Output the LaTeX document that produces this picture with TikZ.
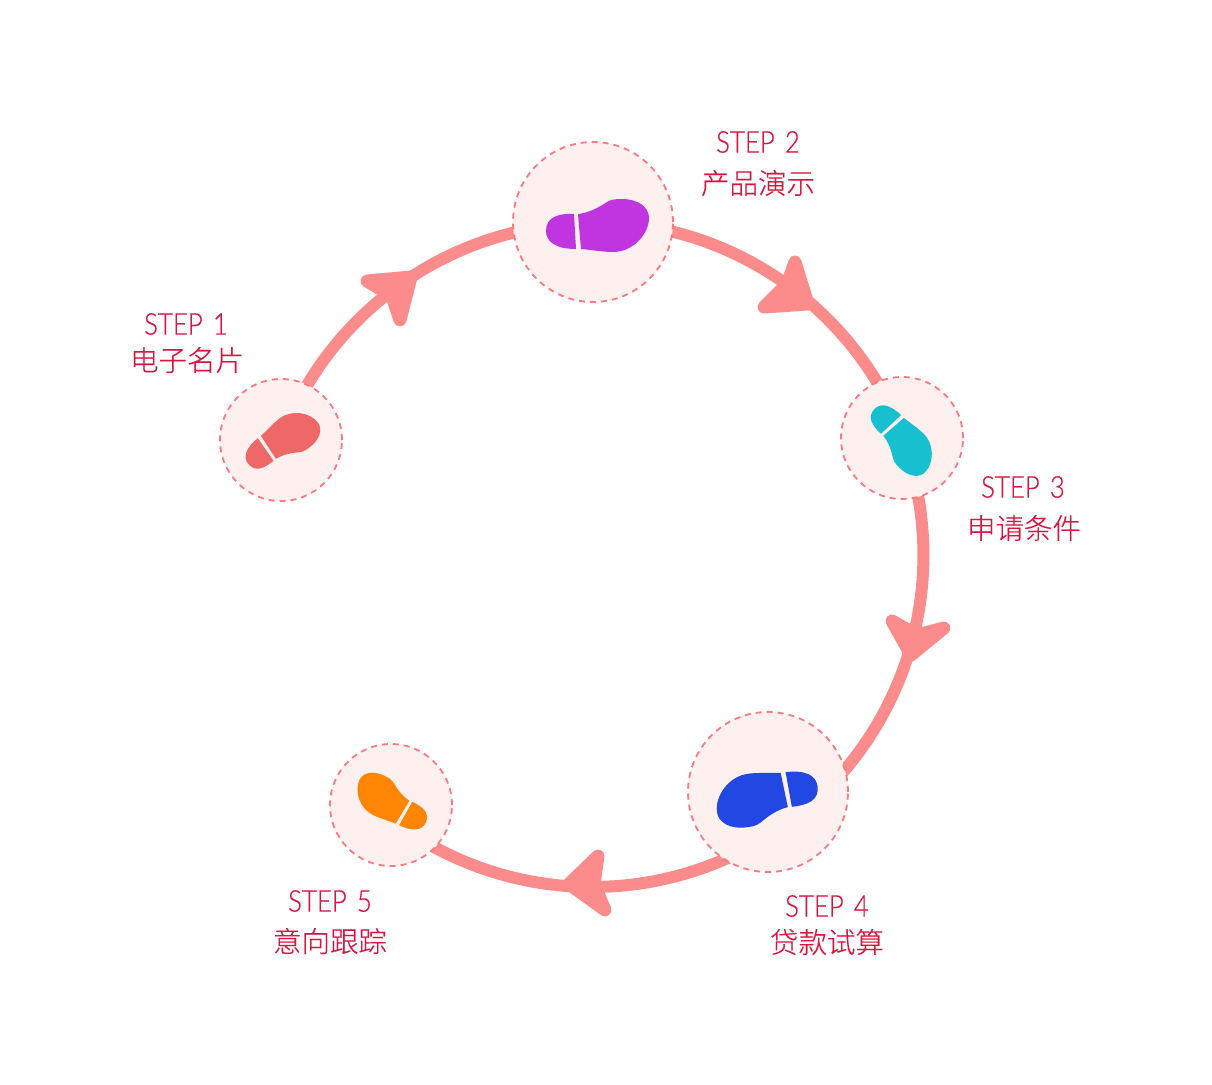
\documentclass[tikz,border=0pt]{standalone}
\usepackage{fontspec}
\usetikzlibrary{backgrounds}
\newfontfamily\latinface[FakeStretch=0.86,WordSpace=1.45,FakeBold=0.5]{Lato Light}
\newfontfamily\cjkface[FakeBold=0.25]{Noto Sans CJK SC Light}
\definecolor{ringc}{HTML}{FC8C8C}
\definecolor{discc}{HTML}{FEF0EF}
\definecolor{dashc}{HTML}{FA7A80}
\definecolor{inkc}{HTML}{D9163F}
\definecolor{foota}{HTML}{EF6868}
\definecolor{footb}{HTML}{C035E0}
\definecolor{footc}{HTML}{16C0CE}
\definecolor{footd}{HTML}{2347E2}
\definecolor{foote}{HTML}{FF8505}
\tikzset{
  disc/.style={circle,inner sep=0pt,fill=discc,draw=dashc,line width=1.8pt,dash pattern=on 6pt off 5pt},
  bigdisc/.style={disc,minimum size=160pt},
  smalldisc/.style={disc,minimum size=122pt},
  ringline/.style={draw=ringc,line width=12pt},
  arrowhead/.style={fill=ringc,draw=ringc,line width=13pt,line join=round},
  steplabel/.style={text=inkc,inner sep=0pt,font=\latinface\fontsize{30}{30}\selectfont},
  cnlabel/.style={text=inkc,inner sep=0pt,font=\cjkface\fontsize{28.5}{28.5}\selectfont},
  foot/.pic={
    \fill (-19,8.2) .. controls (-35,8.5) and (-47,5) .. (-47,-9)
          .. controls (-47,-20) and (-37,-27) .. (-17,-27) -- cycle;
    \fill (-15,8) .. controls (-5,9) and (5,14) .. (14,20)
          .. controls (19,23) and (24,23) .. (29,23)
          .. controls (45,23) and (56,15) .. (56,4)
          .. controls (56,-12) and (40,-30) .. (20,-30)
          .. controls (10,-30) and (0,-28) .. (-12,-27) -- cycle;
  }
}
\begin{document}
\begin{tikzpicture}[x=1pt,y=1pt]
  \useasboundingbox (0,0) rectangle (1212,-1084);

  % Step discs
  \node[smalldisc] (s1) at (281,-440) {};
  \node[bigdisc]   (s2) at (593,-222) {};
  \node[smalldisc] (s3) at (902,-438) {};
  \node[bigdisc]   (s4) at (768,-792) {};
  \node[smalldisc] (s5) at (391,-805) {};

  % Ring segments, running behind the discs
  \begin{pgfonlayer}{background}
    \path (592,-555) ++(-60:332) coordinate (outFour);
    \draw[ringline] (s1.center) arc[start angle=159.7,end angle=90,radius=332];
    \draw[ringline] (s2.center) arc[start angle=90,end angle=20.7,radius=332];
    \draw[ringline] (s3.center) arc[start angle=20.7,end angle=-50,radius=332] -- (s4.center);
    \draw[ringline] (s4.center) -- (outFour) arc[start angle=-60,end angle=-125,radius=332] -- (s5.center);

    % Arrowheads on the ring
    \draw[arrowhead] (411,-277) -- (367,-281) -- (392,-296) -- (400,-320) -- cycle;
    \draw[arrowhead] (808,-304) -- (764,-307) -- (787,-284) -- (795,-262) -- cycle;
    \draw[arrowhead] (911,-655) -- (892,-621) -- (917,-635) -- (944,-628) -- cycle;
    \draw[arrowhead] (569,-884) -- (598,-856) -- (594,-884) -- (605,-910) -- cycle;
  \end{pgfonlayer}

  % Footprints
  \pic[fill=foota,rotate=38,scale=.78,yscale=-1] at (281.3,-446.7) {foot};
  \pic[fill=footb] at (593,-222) {foot};
  \pic[fill=footc,rotate=-44,scale=.78,yscale=-1] at (896,-439.5) {foot};
  \pic[fill=footd,rotate=187] at (772,-801) {foot};
  \pic[fill=foote,rotate=154,scale=.76,yscale=-1] at (396.5,-801.1) {foot};

  % Labels
  \node[steplabel] (t1) at (186,-324) {STEP 1};
  \node[cnlabel]   (c1) at (187,-360) {电子名片};
  \node[steplabel] (t2) at (758,-142) {STEP 2};
  \node[cnlabel]   (c2) at (758,-183) {产品演示};
  \node[steplabel] (t3) at (1023,-487) {STEP 3};
  \node[cnlabel]   (c3) at (1024,-528) {申请条件};
  \node[steplabel] (t4) at (827,-906) {STEP 4};
  \node[cnlabel]   (c4) at (827,-942) {贷款试算};
  \node[steplabel] (t5) at (330,-901) {STEP 5};
  \node[cnlabel]   (c5) at (330,-941) {意向跟踪};
\end{tikzpicture}
\end{document}
